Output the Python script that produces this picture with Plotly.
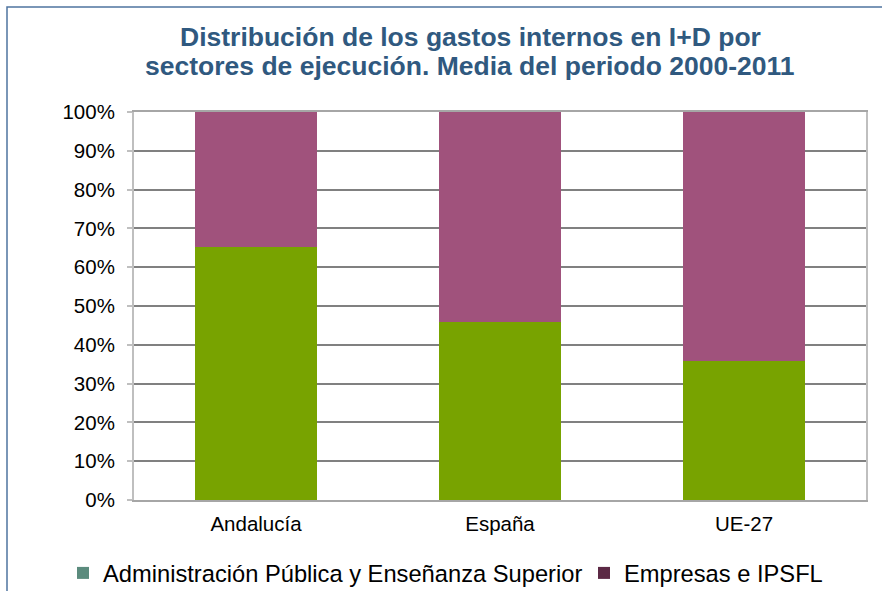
import plotly.graph_objects as go

categories = ["Andalucía", "España", "UE-27"]
admin_publica = [65.3, 46.0, 35.8]
empresas = [34.7, 54.0, 64.2]
series_names = ["Administración Pública y Enseñanza Superior", "Empresas e IPSFL"]
tick_vals = [0, 10, 20, 30, 40, 50, 60, 70, 80, 90, 100]
tick_text = [f"{v}%" for v in tick_vals]
title_lines = ["Distribución de los gastos internos en I+D por",
               "sectores de ejecución. Media del periodo 2000-2011"]

bar_colors = ["#78A300", "#A0527C"]
legend_colors = ["#5B8B7D", "#5C2945"]
FONT = "Liberation Sans, Arial, sans-serif"

fig = go.Figure()
fig.add_trace(go.Bar(x=categories, y=admin_publica, name=series_names[0],
                     marker=dict(color=bar_colors[0], line=dict(width=0)),
                     width=0.504, showlegend=False))
fig.add_trace(go.Bar(x=categories, y=empresas, name=series_names[1],
                     marker=dict(color=bar_colors[1], line=dict(width=0)),
                     width=0.504, showlegend=False))
for name, col, lg in zip(series_names, legend_colors, ["legend", "legend2"]):
    fig.add_trace(go.Scatter(x=[None], y=[None], mode="markers", name=name, legend=lg,
                             marker=dict(symbol="square", size=15, color=col)))

title_y = [(500 - 36.5) / 388, (500 - 66.5) / 388]
annotations = [
    dict(text=t, x=(470 - 134) / 732, y=yy, xref="paper", yref="paper",
         xanchor="center", yanchor="middle", showarrow=False,
         font=dict(family=FONT, size=26.5, color="#30597F", weight="bold"))
    for t, yy in zip(title_lines, title_y)
]

legend_common = dict(orientation="h", xanchor="left", xref="container",
                     y=-73 / 388, yanchor="middle",
                     font=dict(size=23.7, color="black"), itemsizing="constant",
                     bgcolor="rgba(0,0,0,0)")

fig.update_layout(
    width=882, height=591,
    barmode="stack",
    bargap=0.496,
    plot_bgcolor="white", paper_bgcolor="white",
    margin=dict(l=134, r=16, t=112, b=91, autoexpand=False),
    font=dict(family=FONT, color="black", size=20.5),
    annotations=annotations,
    legend=dict(x=63 / 882, **legend_common),
    legend2=dict(x=584 / 882, **legend_common),
    xaxis=dict(showline=True, linecolor="#A6A6A6", linewidth=2, mirror=True,
               showgrid=False, ticks="", tickfont=dict(size=20.5), tickangle=0,
               range=[-0.5, 2.5], fixedrange=True, ticklabelstandoff=4),
    yaxis=dict(range=[0, 100], tickvals=tick_vals, ticktext=tick_text,
               showgrid=True, gridcolor="#808080", gridwidth=2,
               showline=True, linecolor="#BFBFBF", linewidth=2, mirror=True,
               ticks="outside", ticklen=5, tickcolor="#BFBFBF", tickwidth=2,
               tickfont=dict(size=20.5), zeroline=False, ticklabelstandoff=8),
    shapes=[
        dict(type="rect", xref="paper", yref="paper",
             x0=(7 - 134) / 732, x1=2, y0=-1, y1=(500 - 7) / 388,
             line=dict(color="#4F74A0", width=1.5), fillcolor="rgba(0,0,0,0)", layer="below"),
    ],
)

fig.write_html("out.html", config={"displayModeBar": False},
               post_script="document.body.style.margin='0';")
